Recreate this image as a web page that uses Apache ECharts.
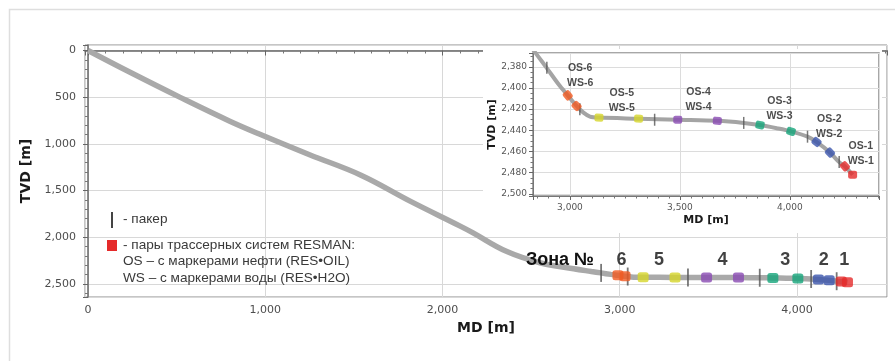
<!DOCTYPE html>
<html>
<head>
<meta charset="utf-8">
<script src="https://cdn.jsdelivr.net/npm/echarts@6/dist/echarts.min.js"></script>
<style>
  html, body { margin: 0; background: #fff; }
  #chart { width: 895px; height: 361px; }
</style>
</head>
<body>
<div id="chart"></div>
<script>
// well trajectory: measured depth vs true vertical depth
const trackMD  = [0, 240, 520, 800, 980, 1250, 1540, 1820, 2100, 2170, 2360, 2550, 2740, 2840, 2894, 2950, 2990, 3030, 3060, 3091, 3132, 3312, 3490, 3670, 3790, 3864, 3940, 4005, 4080, 4121, 4182, 4224, 4250, 4285];
const trackTVD = [0, 236, 502, 757, 905, 1116, 1335, 1615, 1880, 1950, 2150, 2272, 2337, 2366, 2381, 2397, 2407, 2417, 2423, 2427, 2428, 2429, 2430, 2431, 2433, 2435, 2438, 2441, 2446, 2451, 2461, 2470, 2474, 2482];

// tracer pairs per zone
const zones  = ['6', '5', '4', '3', '2', '1'];
const osMD   = [2990, 3132, 3490, 3864, 4121, 4250];
const osTVD  = [2407, 2428, 2430, 2435, 2451, 2474];
const wsMD   = [3030, 3312, 3670, 4005, 4182, 4285];
const wsTVD  = [2417, 2429, 2431, 2441, 2461, 2482];

// packers
const packerMD  = [2895, 3045, 3385, 3790, 4080, 4224];
const packerTVD = [2381, 2420, 2430, 2433, 2446, 2470];

const zoneColors = ['#f05a22', '#d6d62a', '#8a4bb3', '#15a57a', '#3b55ad', '#e52a2a'];
const tagOffsets = [[8, -25], [3, -18], [1, -21], [4, -20], [6, -21], [12, -17]];
const ZONE_NUM_TVD = 2243; // level of the zone numbers in the main plot

const fmt = v => String(v).replace(/\B(?=(\d{3})+(?!\d))/g, ',');
const track = trackMD.map((m, i) => [m, trackTVD[i]]);
const packers = packerMD.map((m, i) => [m, packerTVD[i]]);
const centers = zones.map((z, i) => [(osMD[i] + wsMD[i]) / 2, (osTVD[i] + wsTVD[i]) / 2]);

function slopeAt(md) {
  for (let i = 0; i < trackMD.length - 1; i++) {
    if (md >= trackMD[i] && md < trackMD[i + 1]) {
      return (trackTVD[i + 1] - trackTVD[i]) / (trackMD[i + 1] - trackMD[i]);
    }
  }
  return 0;
}

// inset geometry
const IN = { left: 533, top: 53, width: 346, height: 143, xMin: 2832, xMax: 4405, yMin: 2367, yMax: 2502 };
const inRatio = (IN.height / (IN.yMax - IN.yMin)) / (IN.width / (IN.xMax - IN.xMin));

function markerData(rotate) {
  const out = [];
  zones.forEach((z, i) => {
    [[osMD[i], osTVD[i]], [wsMD[i], wsTVD[i]]].forEach(p => {
      out.push({
        value: p,
        symbolRotate: rotate ? -Math.atan(slopeAt(p[0]) * inRatio) * 180 / Math.PI : 0,
        itemStyle: { color: zoneColors[i] },
      });
    });
  });
  return out;
}

const tickFont = { color: '#4d4d4d', fontSize: 11, fontFamily: 'DejaVu Sans' };
const smallFont = { color: '#555', fontSize: 9, fontFamily: 'DejaVu Sans' };
const legendFont = '13.6px "Liberation Sans"';

const chart = echarts.init(document.getElementById('chart'));

const option = {
  animation: false,
  backgroundColor: '#fff',
  grid: [
    { left: 85, top: 45, right: 8, bottom: 64, show: true, borderColor: '#8c8c8c', borderWidth: 1 },
    { left: IN.left, top: IN.top, width: IN.width, height: IN.height, show: true,
      backgroundColor: '#fff', borderColor: '#8a8a8a', borderWidth: 1.5, z: 8 },
  ],
  xAxis: [
    {
      gridIndex: 0, type: 'value', min: -17, max: 4508, splitNumber: 5,
      name: 'MD [m]', nameLocation: 'middle', nameGap: 24,
      nameTextStyle: { fontWeight: 'bold', fontSize: 14, color: '#1a1a1a', fontFamily: 'DejaVu Sans' },
      axisLine: { lineStyle: { color: '#666', width: 1.5 } },
      axisTick: { length: 5, lineStyle: { color: '#666' } },
      minorTick: { show: true, splitNumber: 10, length: 3, lineStyle: { color: '#777' } },
      axisLabel: { ...tickFont, margin: 8, formatter: v => (v % 1000 === 0 ? fmt(v) : '') },
      splitLine: { lineStyle: { color: '#d8d8d8' } },
    },
    {
      gridIndex: 1, type: 'value', min: IN.xMin, max: IN.xMax, splitNumber: 3, z: 8,
      name: 'MD [m]', nameLocation: 'middle', nameGap: 19,
      nameTextStyle: { fontWeight: 'bold', fontSize: 11, color: '#1a1a1a', fontFamily: 'DejaVu Sans' },
      axisLine: { lineStyle: { color: '#777', width: 1 } },
      axisTick: { length: 4, lineStyle: { color: '#666' } },
      minorTick: { show: true, splitNumber: 10, length: 2.5, lineStyle: { color: '#777' } },
      axisLabel: { ...smallFont, margin: 7, formatter: v => (v % 500 === 0 ? fmt(v) : '') },
      splitLine: { lineStyle: { color: '#dcdcdc' } },
    },
  ],
  yAxis: [
    {
      gridIndex: 0, type: 'value', inverse: true, min: -59, max: 2639, splitNumber: 5,
      name: 'TVD [m]', nameLocation: 'middle', nameGap: 45,
      nameTextStyle: { fontWeight: 'bold', fontSize: 14, color: '#1a1a1a', fontFamily: 'DejaVu Sans' },
      axisLine: { lineStyle: { color: '#666', width: 1.5 } },
      axisTick: { length: 5, lineStyle: { color: '#666' } },
      minorTick: { show: true, splitNumber: 5, length: 3, lineStyle: { color: '#777' } },
      axisLabel: { ...tickFont, margin: 9, formatter: v => (v % 500 === 0 ? fmt(v) : '') },
      splitLine: { lineStyle: { color: '#d8d8d8' } },
    },
    {
      gridIndex: 1, type: 'value', inverse: true, min: IN.yMin, max: IN.yMax, splitNumber: 7, z: 8,
      name: 'TVD [m]', nameLocation: 'middle', nameGap: 33,
      nameTextStyle: { fontWeight: 'bold', fontSize: 11, color: '#1a1a1a', fontFamily: 'DejaVu Sans' },
      axisLine: { lineStyle: { color: '#777', width: 1 } },
      axisTick: { length: 4, lineStyle: { color: '#666' } },
      minorTick: { show: true, splitNumber: 4, length: 2.5, lineStyle: { color: '#777' } },
      axisLabel: { ...smallFont, margin: 6, formatter: v => (v % 20 === 0 ? fmt(v) : '') },
      splitLine: { lineStyle: { color: '#dcdcdc' } },
    },
  ],
  series: [
    {
      type: 'line', xAxisIndex: 0, yAxisIndex: 0, data: track, smooth: 0.4,
      showSymbol: false, lineStyle: { color: '#a9a9a9', width: 5.5 }, z: 2,
    },
    {
      type: 'scatter', xAxisIndex: 0, yAxisIndex: 0, data: packers,
      symbol: 'rect', symbolSize: [1.8, 18], itemStyle: { color: '#555' }, z: 3,
    },
    {
      type: 'scatter', xAxisIndex: 0, yAxisIndex: 0, data: markerData(false),
      symbol: 'roundRect', symbolSize: [11, 10], z: 4,
    },
    {
      type: 'scatter', xAxisIndex: 0, yAxisIndex: 0, z: 4,
      data: centers.map((c, i) => ({ value: [c[0], ZONE_NUM_TVD], name: zones[i] })),
      symbolSize: 1, itemStyle: { color: 'rgba(0,0,0,0)' },
      label: {
        show: true, position: 'inside', formatter: p => p.name,
        fontFamily: 'Liberation Sans', fontWeight: 'bold', fontSize: 18, color: '#111',
      },
    },
    {
      type: 'line', xAxisIndex: 1, yAxisIndex: 1, data: track, smooth: 0.3, clip: true,
      showSymbol: false, lineStyle: { color: '#a4a4a4', width: 4 }, z: 9,
    },
    {
      type: 'scatter', xAxisIndex: 1, yAxisIndex: 1, data: packers,
      symbol: 'rect', symbolSize: [1.5, 12], itemStyle: { color: '#555' }, z: 10,
    },
    {
      type: 'scatter', xAxisIndex: 1, yAxisIndex: 1, data: markerData(true),
      symbol: 'roundRect', symbolSize: [9, 8], z: 11,
    },
    {
      type: 'scatter', xAxisIndex: 1, yAxisIndex: 1, z: 11,
      data: centers.map((c, i) => ({ value: c, name: zones[i], label: { offset: tagOffsets[i] } })),
      symbolSize: 1, itemStyle: { color: 'rgba(0,0,0,0)' },
      label: {
        show: true, position: 'inside',
        formatter: p => 'OS-' + p.name + '\nWS-' + p.name,
        fontFamily: 'Liberation Sans', fontWeight: 'bold', fontSize: 10.5, lineHeight: 15, color: '#222',
      },
    },
  ],
  graphic: [
    { type: 'rect', z: 0, shape: { x: 9.5, y: 9.5, width: 900, height: 400 },
      style: { fill: 'none', stroke: '#dedede', lineWidth: 1.5 } },
    { type: 'rect', z: 5, shape: { x: 483, y: 49, width: 399, height: 184 },
      style: { fill: '#fff' } },
    { type: 'rect', z: 5, shape: { x: 111, y: 212, width: 2, height: 16 }, style: { fill: '#444' } },
    { type: 'rect', z: 5, shape: { x: 107, y: 240, width: 10, height: 11 }, style: { fill: '#e52a2a' } },
    { type: 'text', z: 5, x: 123, y: 219,
      style: { text: '- пакер', font: legendFont, fill: '#3a3a3a', verticalAlign: 'middle' } },
    { type: 'text', z: 5, x: 123, y: 245,
      style: { text: '- пары трассерных систем RESMAN:', font: legendFont, fill: '#3a3a3a', verticalAlign: 'middle' } },
    { type: 'text', z: 5, x: 123, y: 261.5,
      style: { text: 'OS – с маркерами нефти (RES•OIL)', font: legendFont, fill: '#3a3a3a', verticalAlign: 'middle' } },
    { type: 'text', z: 5, x: 123, y: 278,
      style: { text: 'WS – с маркерами воды (RES•H2O)', font: legendFont, fill: '#3a3a3a', verticalAlign: 'middle' } },
    { type: 'text', z: 5, x: 560, y: 260,
      style: { text: 'Зона №', font: 'bold 18px "Liberation Sans"', fill: '#111', align: 'center', verticalAlign: 'middle' } },
  ],
};

chart.setOption(option);
window.addEventListener('resize', () => chart.resize());
</script>
</body>
</html>
